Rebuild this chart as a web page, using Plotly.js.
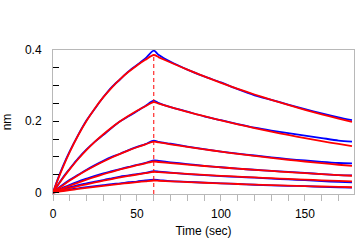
<!DOCTYPE html>
<html>
<head>
<meta charset="utf-8">
<script src="https://cdn.plot.ly/plotly-3.0.1.min.js"></script>
<style>html,body{margin:0;padding:0;background:#fff;}#chart{width:364px;height:244px;}</style>
</head>
<body>
<div id="chart"></div>
<script>
// Time points (sec)
const time = [0,3,6,10,15,20,25,30,35,40,45,50,55,60,63,70,80,90,100,110,120,130,140,150,160,170,178];
const assocEnd = 60;

// Measured responses (nm), blue
const meas1 = [0,0.040,0.075,0.116,0.162,0.203,0.236,0.268,0.296,0.318,0.340,0.358,0.376,0.398,0.386,0.367,0.345,0.326,0.309,0.290,0.273,0.260,0.247,0.234,0.222,0.211,0.203];
const meas2 = [0,0.022,0.043,0.067,0.096,0.121,0.143,0.162,0.182,0.200,0.214,0.228,0.243,0.258,0.251,0.240,0.227,0.214,0.203,0.192,0.182,0.174,0.167,0.160,0.153,0.146,0.143];
const meas3 = [0,0.012,0.023,0.036,0.050,0.064,0.077,0.089,0.100,0.109,0.119,0.128,0.136,0.146,0.142,0.137,0.129,0.122,0.115,0.109,0.104,0.099,0.094,0.090,0.086,0.083,0.082];
const meas4 = [0,0.008,0.014,0.022,0.031,0.039,0.047,0.054,0.060,0.066,0.072,0.078,0.083,0.090,0.089,0.085,0.080,0.075,0.071,0.067,0.064,0.061,0.058,0.055,0.052,0.049,0.048];
const meas5 = [0,0.006,0.010,0.015,0.021,0.026,0.031,0.035,0.040,0.045,0.048,0.052,0.055,0.060,0.059,0.056,0.052,0.049,0.046,0.044,0.042,0.039,0.037,0.035,0.032,0.030,0.029];
const meas6 = [0,0.004,0.006,0.009,0.012,0.015,0.018,0.021,0.024,0.026,0.029,0.031,0.034,0.036,0.035,0.032,0.030,0.028,0.026,0.024,0.022,0.020,0.019,0.018,0.016,0.015,0.014];

// Fitted curves (nm), red
const fit1 = [0,0.0376,0.0723,0.1143,0.1608,0.2014,0.2368,0.2677,0.2947,0.3183,0.3388,0.3568,0.3725,0.3860,0.3795,0.3649,0.3448,0.3259,0.3080,0.2912,0.2752,0.2601,0.2458,0.2323,0.2196,0.2076,0.1984];
const fit2 = [0,0.0211,0.0411,0.0658,0.0941,0.1197,0.1428,0.1638,0.1827,0.1999,0.2154,0.2295,0.2422,0.2537,0.2494,0.2398,0.2266,0.2142,0.2025,0.1914,0.1809,0.1709,0.1616,0.1527,0.1443,0.1364,0.1304];
const fit3 = [0,0.0106,0.0207,0.0336,0.0486,0.0625,0.0754,0.0873,0.0984,0.1087,0.1183,0.1272,0.1354,0.1430,0.1407,0.1354,0.1281,0.1213,0.1148,0.1086,0.1028,0.0973,0.0921,0.0872,0.0825,0.0781,0.0748];
const fit4 = [0,0.0060,0.0118,0.0192,0.0280,0.0363,0.0441,0.0514,0.0583,0.0648,0.0709,0.0767,0.0821,0.0872,0.0858,0.0828,0.0786,0.0746,0.0708,0.0672,0.0638,0.0606,0.0575,0.0546,0.0518,0.0492,0.0472];
const fit5 = [0,0.0038,0.0075,0.0122,0.0179,0.0233,0.0284,0.0333,0.0380,0.0424,0.0466,0.0506,0.0544,0.0580,0.0571,0.0551,0.0523,0.0496,0.0471,0.0447,0.0425,0.0403,0.0383,0.0363,0.0345,0.0327,0.0314];
const fit6 = [0,0.0021,0.0042,0.0068,0.0101,0.0132,0.0161,0.0190,0.0217,0.0244,0.0269,0.0293,0.0317,0.0339,0.0332,0.0316,0.0295,0.0276,0.0257,0.0240,0.0224,0.0209,0.0195,0.0182,0.0170,0.0159,0.0150];

const measured = [meas1,meas2,meas3,meas4,meas5,meas6];
const fits = [fit1,fit2,fit3,fit4,fit5,fit6];

const traces = [];
measured.forEach(s => traces.push({x: time, y: s, type: 'scatter', mode: 'lines', line: {color: '#0000ff', width: 1.8, shape: 'spline', smoothing: 0.8}, hoverinfo: 'skip'}));
fits.forEach(s => traces.push({x: time, y: s, type: 'scatter', mode: 'lines', line: {color: '#ff0000', width: 1.8, shape: 'spline', smoothing: 0.8}, hoverinfo: 'skip'}));

const yRange = [-0.004, 0.4];
const peak = Math.max(...fit1);

const font = {family: 'Liberation Sans, Arial, sans-serif', size: 12, color: '#000'};
const layout = {
  width: 364, height: 244,
  margin: {l: 53, r: 10, t: 50, b: 50},
  paper_bgcolor: '#fff', plot_bgcolor: '#fff',
  showlegend: false,
  font: font,
  xaxis: {
    range: [0, 179.2], showgrid: false, zeroline: false,
    showline: true, linecolor: '#b8b8b8', linewidth: 1, mirror: true,
    ticks: 'outside', ticklen: 6, tickcolor: '#b8b8b8', tickwidth: 1,
    tick0: 0, dtick: 50,
    minor: {dtick: 10, ticks: 'outside', ticklen: 6, tickcolor: '#b8b8b8', tickwidth: 1, showgrid: false},
    tickfont: font,
    ticklabelstandoff: 3,
    title: {text: 'Time (sec)', font: font, standoff: 6}
  },
  yaxis: {
    range: yRange, showgrid: false, zeroline: false,
    showline: true, linecolor: '#b8b8b8', linewidth: 1, mirror: true,
    ticks: 'inside', ticklen: 6, tickcolor: '#000', tickwidth: 1,
    tick0: 0, dtick: 0.2,
    minor: {dtick: 0.05, ticks: 'inside', ticklen: 6, tickcolor: '#000', tickwidth: 1, showgrid: false},
    tickfont: font,
    ticklabelstandoff: 8,
    title: {text: 'nm', font: font, standoff: 14}
  },
  shapes: [{
    type: 'line', xref: 'x', yref: 'y',
    x0: assocEnd, x1: assocEnd, y0: yRange[0], y1: peak,
    line: {color: '#ff0000', width: 1, dash: '4px,3px'}
  }]
};

Plotly.newPlot('chart', traces, layout, {displayModeBar: false, staticPlot: true});
</script>
</body>
</html>
